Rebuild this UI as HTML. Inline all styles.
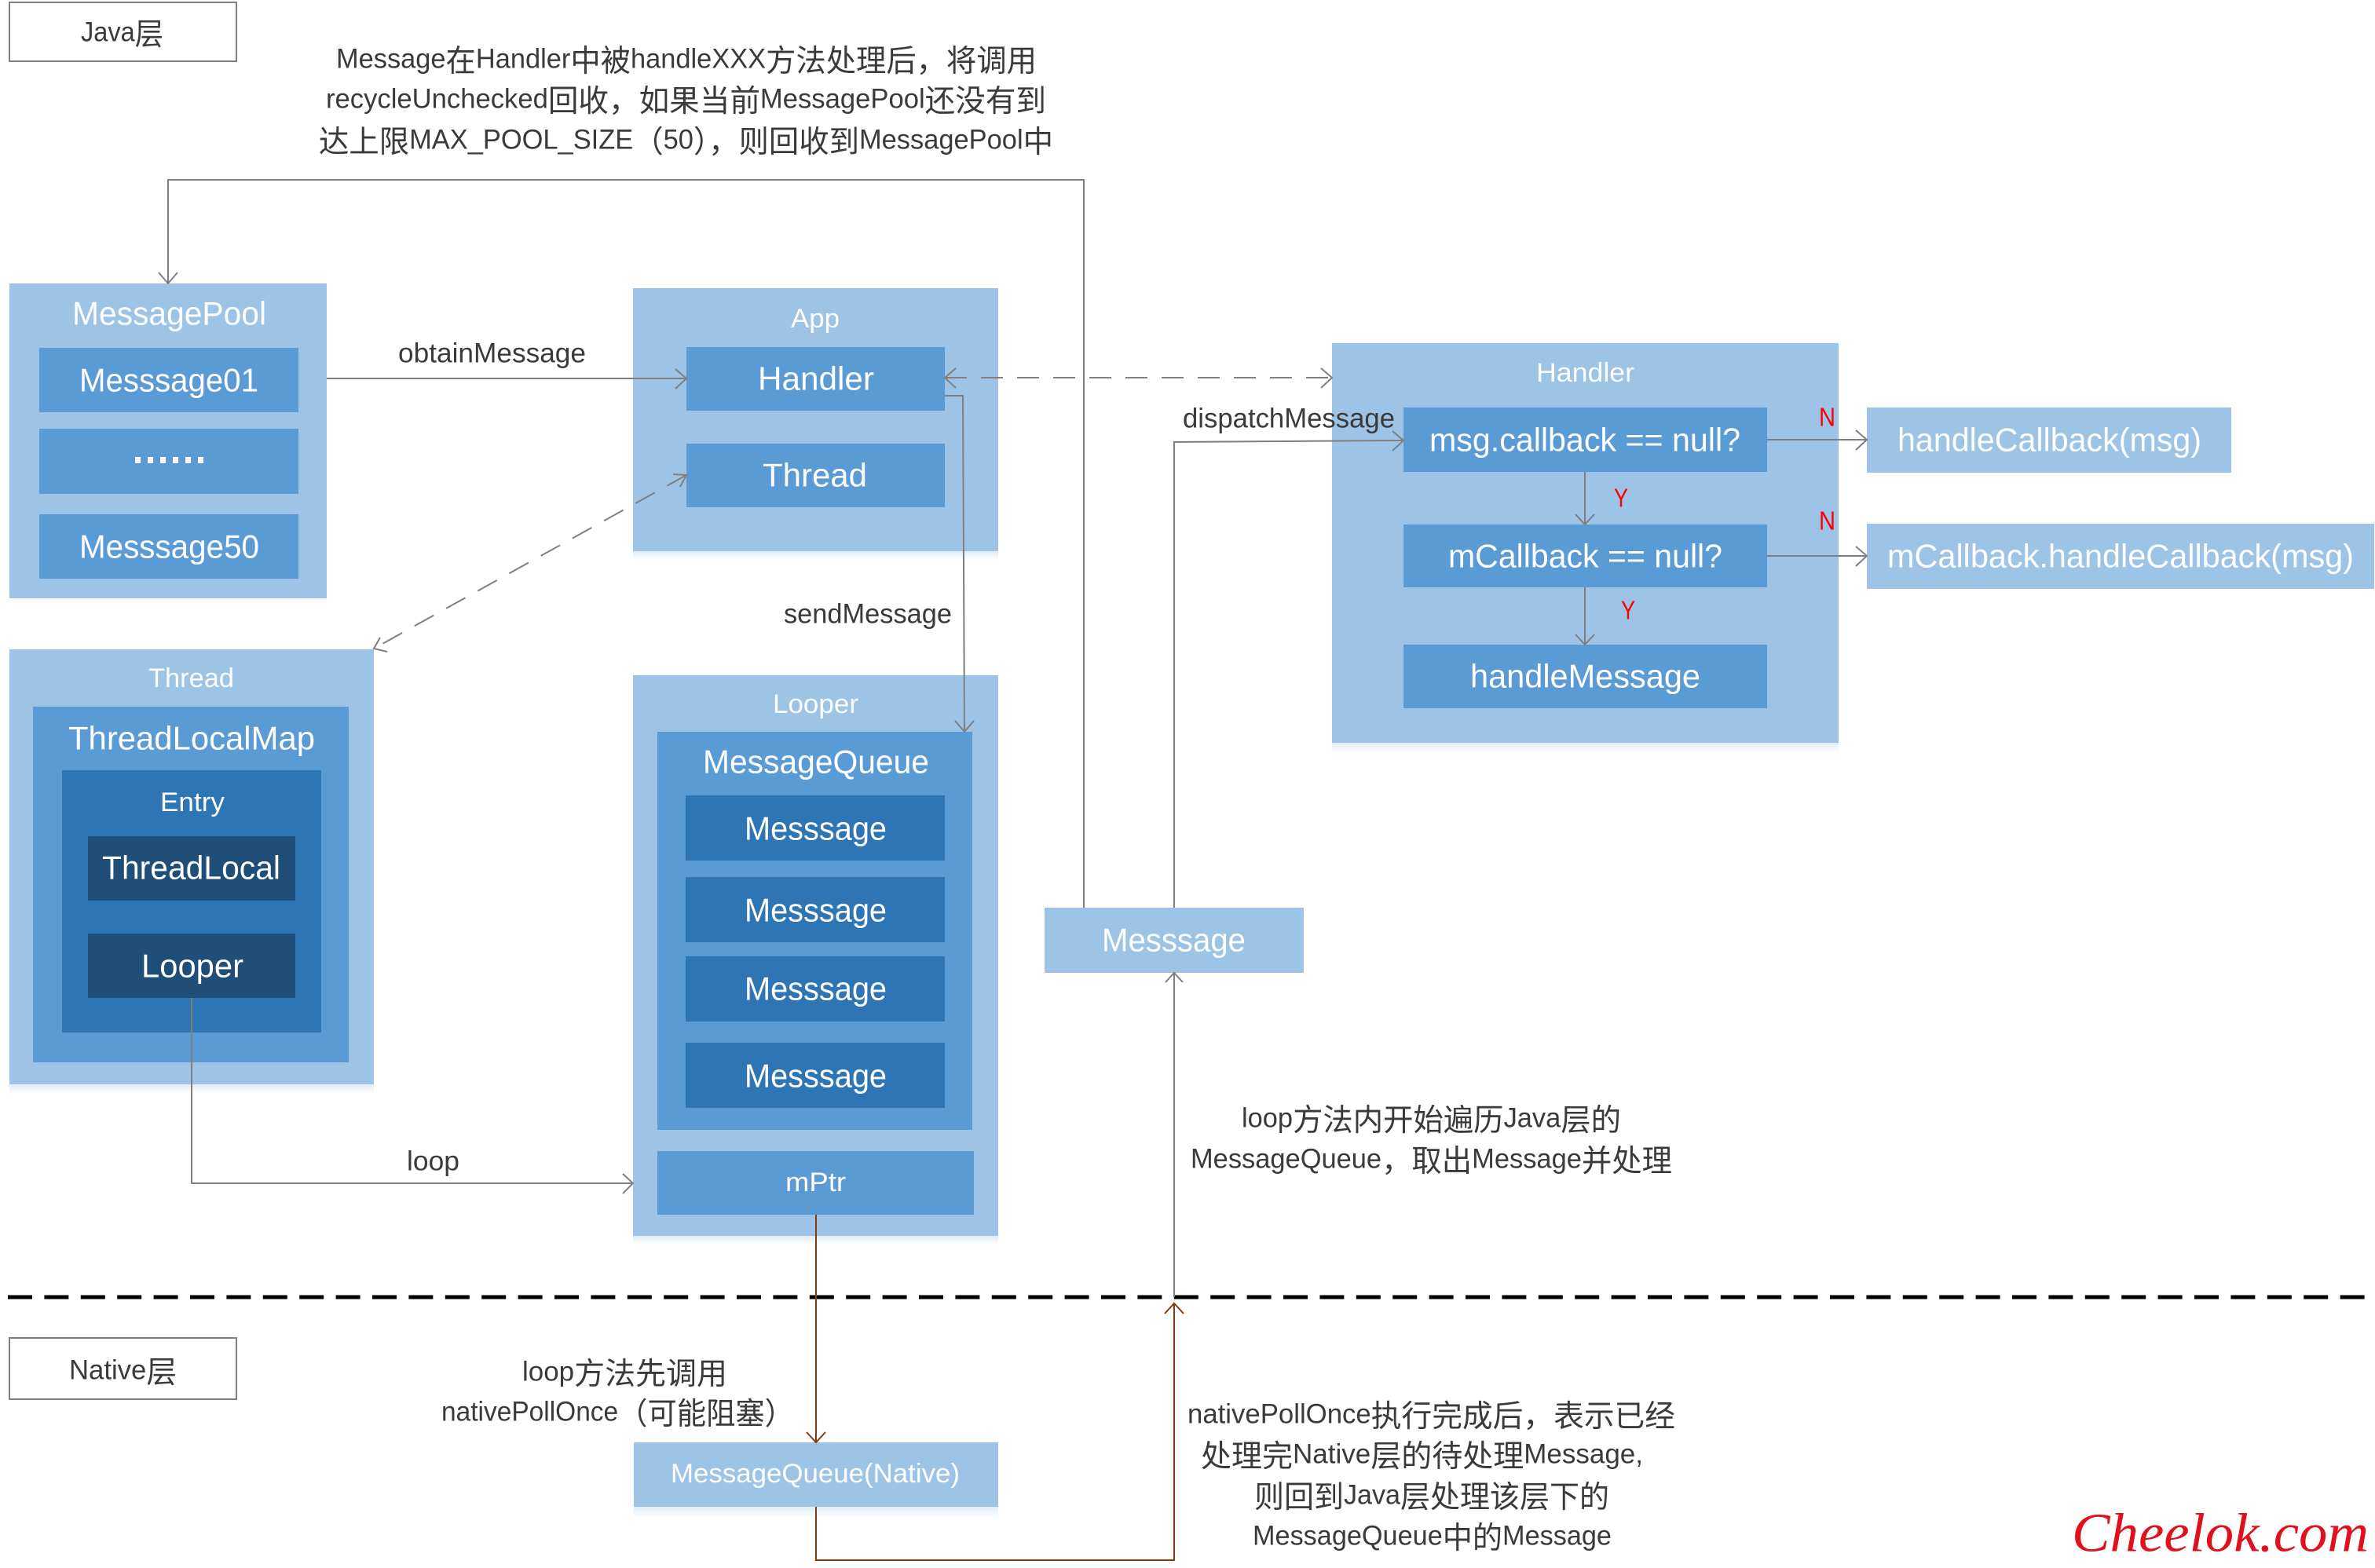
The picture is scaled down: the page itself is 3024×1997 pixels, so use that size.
<!DOCTYPE html>
<html lang="zh">
<head>
<meta charset="utf-8">
<title>Handler diagram</title>
<style>
html,body{margin:0;padding:0;background:#fff}
svg{display:block}
text{font-family:"Liberation Sans","Noto Sans CJK SC",sans-serif;dominant-baseline:central}
.w{fill:#fff}
.k{fill:#3a3a3a}
.b{font-size:42px}
.t{font-size:34px}
.a{font-size:35px}
.c{font-family:"Noto Sans CJK SC",sans-serif;font-size:39px}
.r{fill:#f00;font-size:33px}
.l{fill:#9dc3e6}
.m{fill:#5b9bd5}
.d{fill:#2e75b6}
.x{fill:#1f4e79}
.g{fill:none;stroke:#7f7f7f;stroke-width:2}
.o{fill:none;stroke:#843c0c;stroke-width:2}
</style>
</head>
<body>
<svg xmlns="http://www.w3.org/2000/svg" width="3024" height="1997" viewBox="0 0 3024 1997">
<defs>
<linearGradient id="s" x1="0" y1="0" x2="0" y2="1"><stop offset="0" stop-color="#e1ecf7"/><stop offset="1" stop-color="#fff"/></linearGradient>
</defs>
<rect width="3024" height="1997" fill="#fff"/>

<!-- layer boxes -->
<rect x="12" y="3" width="289" height="75" fill="#fff" stroke="#7f7f7f" stroke-width="2"/>
<text class="a k" x="103" y="41" textLength="105" lengthAdjust="spacingAndGlyphs">Java<tspan class="c">层</tspan></text>
<rect x="12" y="1704" width="289" height="78" fill="#fff" stroke="#7f7f7f" stroke-width="2"/>
<text class="a k" x="88" y="1745" textLength="137" lengthAdjust="spacingAndGlyphs">Native<tspan class="c">层</tspan></text>

<!-- top note -->
<text class="a k" x="428" y="75" textLength="892" lengthAdjust="spacingAndGlyphs">Message<tspan class="c">在</tspan>Handler<tspan class="c">中被</tspan>handleXXX<tspan class="c">方法处理后，将调用</tspan></text>
<text class="a k" x="415" y="126" textLength="917" lengthAdjust="spacingAndGlyphs">recycleUnchecked<tspan class="c">回收，如果当前</tspan>MessagePool<tspan class="c">还没有到</tspan></text>
<text class="a k" x="406" y="178" textLength="935" lengthAdjust="spacingAndGlyphs"><tspan class="c">达上限</tspan>MAX_POOL_SIZE<tspan class="c">（</tspan>50<tspan class="c">），则回收到</tspan>MessagePool<tspan class="c">中</tspan></text>

<!-- shadows -->
<rect x="806" y="702" width="465" height="12" fill="url(#s)"/>
<rect x="1696" y="946" width="645" height="12" fill="url(#s)"/>
<rect x="12" y="1381" width="464" height="12" fill="url(#s)"/>
<rect x="806" y="1574" width="465" height="12" fill="url(#s)"/>
<rect x="807" y="1919" width="464" height="14" fill="url(#s)"/>

<!-- MessagePool -->
<rect class="l" x="12" y="361" width="404" height="401"/>
<text class="b w" x="92" y="399" textLength="247" lengthAdjust="spacingAndGlyphs">MessagePool</text>
<rect class="m" x="50" y="443" width="330" height="82"/>
<text class="b w" x="101" y="484" textLength="228" lengthAdjust="spacingAndGlyphs">Messsage01</text>
<rect class="m" x="50" y="546" width="330" height="83"/>
<g fill="#fff"><rect x="172" y="582" width="7" height="8"/><rect x="188" y="582" width="7" height="8"/><rect x="204" y="582" width="7" height="8"/><rect x="220" y="582" width="7" height="8"/><rect x="236" y="582" width="7" height="8"/><rect x="252" y="582" width="7" height="8"/></g>
<rect class="m" x="50" y="655" width="330" height="82"/>
<text class="b w" x="101" y="696" textLength="229" lengthAdjust="spacingAndGlyphs">Messsage50</text>

<!-- App -->
<rect class="l" x="806" y="367" width="465" height="335"/>
<text class="t w" x="1007" y="406" textLength="62" lengthAdjust="spacingAndGlyphs">App</text>
<rect class="m" x="874" y="442" width="329" height="81"/>
<text class="b w" x="965" y="482" textLength="148" lengthAdjust="spacingAndGlyphs">Handler</text>
<rect class="m" x="874" y="565" width="329" height="81"/>
<text class="b w" x="971" y="605" textLength="133" lengthAdjust="spacingAndGlyphs">Thread</text>

<!-- Thread -->
<rect class="l" x="12" y="827" width="464" height="554"/>
<text class="t w" x="189" y="864" textLength="109" lengthAdjust="spacingAndGlyphs">Thread</text>
<rect class="m" x="42" y="900" width="402" height="453"/>
<text class="b w" x="87" y="940" textLength="314" lengthAdjust="spacingAndGlyphs">ThreadLocalMap</text>
<rect class="d" x="79" y="981" width="330" height="334"/>
<text class="t w" x="204" y="1022" textLength="82" lengthAdjust="spacingAndGlyphs">Entry</text>
<rect class="x" x="112" y="1065" width="264" height="82"/>
<text class="b w" x="130" y="1105" textLength="227" lengthAdjust="spacingAndGlyphs">ThreadLocal</text>
<rect class="x" x="112" y="1189" width="264" height="82"/>
<text class="b w" x="180" y="1230" textLength="130" lengthAdjust="spacingAndGlyphs">Looper</text>

<!-- Looper -->
<rect class="l" x="806" y="860" width="465" height="714"/>
<text class="t w" x="984" y="897" textLength="109" lengthAdjust="spacingAndGlyphs">Looper</text>
<rect class="m" x="837" y="932" width="401" height="507"/>
<text class="b w" x="895" y="970" textLength="288" lengthAdjust="spacingAndGlyphs">MessageQueue</text>
<rect class="d" x="873" y="1013" width="330" height="83"/>
<text class="b w" x="948" y="1055" textLength="181" lengthAdjust="spacingAndGlyphs">Messsage</text>
<rect class="d" x="873" y="1117" width="330" height="83"/>
<text class="b w" x="948" y="1159" textLength="181" lengthAdjust="spacingAndGlyphs">Messsage</text>
<rect class="d" x="873" y="1218" width="330" height="83"/>
<text class="b w" x="948" y="1259" textLength="181" lengthAdjust="spacingAndGlyphs">Messsage</text>
<rect class="d" x="873" y="1328" width="330" height="83"/>
<text class="b w" x="948" y="1370" textLength="181" lengthAdjust="spacingAndGlyphs">Messsage</text>
<rect class="m" x="837" y="1466" width="403" height="81"/>
<text class="t w" x="1000" y="1506" textLength="77" lengthAdjust="spacingAndGlyphs">mPtr</text>

<!-- Message -->
<rect class="l" x="1330" y="1156" width="330" height="83"/>
<text class="b w" x="1403" y="1197" textLength="183" lengthAdjust="spacingAndGlyphs">Messsage</text>

<!-- Handler -->
<rect class="l" x="1696" y="437" width="645" height="509"/>
<text class="t w" x="1956" y="475" textLength="125" lengthAdjust="spacingAndGlyphs">Handler</text>
<rect class="m" x="1787" y="519" width="463" height="82"/>
<text class="b w" x="1820" y="560" textLength="396" lengthAdjust="spacingAndGlyphs">msg.callback == null?</text>
<rect class="m" x="1787" y="668" width="463" height="80"/>
<text class="b w" x="1844" y="708" textLength="349" lengthAdjust="spacingAndGlyphs">mCallback == null?</text>
<rect class="m" x="1787" y="821" width="463" height="81"/>
<text class="b w" x="1872" y="861" textLength="293" lengthAdjust="spacingAndGlyphs">handleMessage</text>

<rect class="l" x="2377" y="519" width="464" height="83"/>
<text class="b w" x="2416" y="560" textLength="387" lengthAdjust="spacingAndGlyphs">handleCallback(msg)</text>
<rect class="l" x="2377" y="667" width="646" height="83"/>
<text class="b w" x="2403" y="708" textLength="594" lengthAdjust="spacingAndGlyphs">mCallback.handleCallback(msg)</text>

<!-- MQ native -->
<rect class="l" x="807" y="1837" width="464" height="82"/>
<text class="t w" x="854" y="1877" textLength="368" lengthAdjust="spacingAndGlyphs">MessageQueue(Native)</text>

<!-- divider -->
<line x1="10" y1="1652" x2="3016" y2="1652" stroke="#000" stroke-width="5" stroke-dasharray="31 15.4"/>

<!-- connectors -->
<path class="g" d="M1380 1156V229H214V361"/>
<path class="g" d="M202 347L214 361L226 347"/>
<path class="g" d="M416 482H874"/>
<path class="g" d="M860 470L874 482L860 495"/>
<path class="g" d="M1203 481H1696" stroke-dasharray="28 18"/>
<path class="g" d="M1217 469L1203 481L1217 494"/>
<path class="g" d="M1682 469L1696 481L1682 494"/>
<path class="g" d="M1203 504H1226L1228 932"/>
<path class="g" d="M1216 918L1228 932L1240 918"/>
<path class="g" d="M874 605L476 826" stroke-dasharray="28 18"/>
<path class="g" d="M857 604L874 605L866 620"/>
<path class="g" d="M493 830L476 826L484 812"/>
<path class="g" d="M244 1271V1507H806"/>
<path class="g" d="M793 1495L806 1507L793 1520"/>
<path class="g" d="M1495 1652V1239"/>
<path class="g" d="M1484 1251L1495 1239L1506 1251"/>
<path class="g" d="M1495 1156V563L1787 561"/>
<path class="g" d="M1773 549L1787 561L1773 574"/>
<path class="g" d="M2250 560H2377"/>
<path class="g" d="M2363 548L2377 560L2363 573"/>
<path class="g" d="M2250 708H2377"/>
<path class="g" d="M2363 696L2377 708L2363 721"/>
<path class="g" d="M2018 601V668"/>
<path class="g" d="M2006 655L2018 668L2030 655"/>
<path class="g" d="M2018 748V821"/>
<path class="g" d="M2006 808L2018 821L2030 808"/>
<path class="o" d="M1039 1547V1837"/>
<path class="o" d="M1027 1824L1039 1837L1051 1824"/>
<path class="o" d="M1039 1919V1987H1495V1660"/>
<path class="o" d="M1483 1673L1495 1660L1507 1673"/>

<!-- connector labels -->
<text class="a k" x="507" y="450" textLength="239" lengthAdjust="spacingAndGlyphs">obtainMessage</text>
<text class="a k" x="998" y="782" textLength="214" lengthAdjust="spacingAndGlyphs">sendMessage</text>
<text class="a k" x="1506" y="533" textLength="270" lengthAdjust="spacingAndGlyphs">dispatchMessage</text>
<text class="a k" x="518" y="1479" textLength="67" lengthAdjust="spacingAndGlyphs">loop</text>
<text class="r" x="2316" y="531" textLength="21" lengthAdjust="spacingAndGlyphs">N</text>
<text class="r" x="2316" y="663" textLength="21" lengthAdjust="spacingAndGlyphs">N</text>
<text class="r" x="2055" y="634" textLength="18" lengthAdjust="spacingAndGlyphs">Y</text>
<text class="r" x="2064" y="777" textLength="18" lengthAdjust="spacingAndGlyphs">Y</text>

<!-- notes -->
<text class="a k" x="1581" y="1424" textLength="483" lengthAdjust="spacingAndGlyphs">loop<tspan class="c">方法内开始遍历</tspan>Java<tspan class="c">层的</tspan></text>
<text class="a k" x="1516" y="1476" textLength="613" lengthAdjust="spacingAndGlyphs">MessageQueue<tspan class="c">，取出</tspan>Message<tspan class="c">并处理</tspan></text>
<text class="a k" x="665" y="1747" textLength="261" lengthAdjust="spacingAndGlyphs">loop<tspan class="c">方法先调用</tspan></text>
<text class="a k" x="562" y="1798" textLength="449" lengthAdjust="spacingAndGlyphs">nativePollOnce<tspan class="c">（可能阻塞）</tspan></text>
<text class="a k" x="1512" y="1801" textLength="621" lengthAdjust="spacingAndGlyphs">nativePollOnce<tspan class="c">执行完成后，表示已经</tspan></text>
<text class="a k" x="1529" y="1852" textLength="563" lengthAdjust="spacingAndGlyphs"><tspan class="c">处理完</tspan>Native<tspan class="c">层的待处理</tspan>Message,</text>
<text class="a k" x="1597" y="1904" textLength="452" lengthAdjust="spacingAndGlyphs"><tspan class="c">则回到</tspan>Java<tspan class="c">层处理该层下的</tspan></text>
<text class="a k" x="1595" y="1956" textLength="457" lengthAdjust="spacingAndGlyphs">MessageQueue<tspan class="c">中的</tspan>Message</text>

<!-- watermark -->
<text x="2638" y="1953" textLength="378" lengthAdjust="spacingAndGlyphs" style="font-family:'Liberation Serif',serif;font-style:italic;font-size:70px;fill:#e0101c">Cheelok.com</text>
</svg>
</body>
</html>
